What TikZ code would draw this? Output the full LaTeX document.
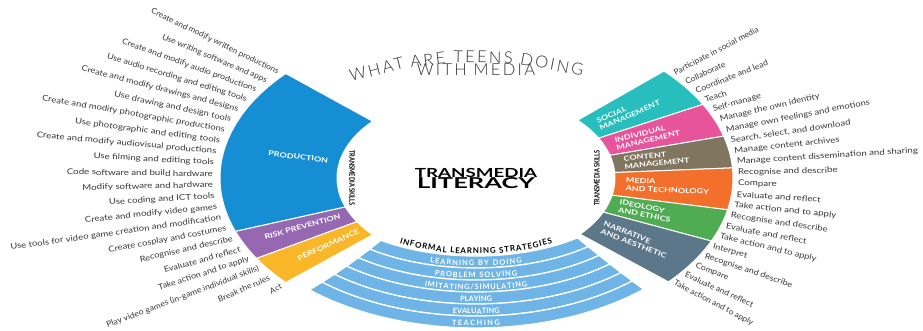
\documentclass[tikz,border=0pt]{standalone}
\usepackage{fontspec}
\setmainfont{Lato}
\newfontfamily\titlefont{Lato Light}[LetterSpace=14]
\usetikzlibrary{decorations.text}
\definecolor{cprod}{RGB}{22,142,212}
\definecolor{crisk}{RGB}{150,104,178}
\definecolor{cperf}{RGB}{248,182,40}
\definecolor{csoc}{RGB}{40,190,190}
\definecolor{cind}{RGB}{232,84,156}
\definecolor{ccont}{RGB}{128,118,96}
\definecolor{cmed}{RGB}{242,112,44}
\definecolor{cideo}{RGB}{80,172,82}
\definecolor{cnarr}{RGB}{92,118,138}
\definecolor{cband}{RGB}{110,180,230}
\definecolor{ctext}{RGB}{55,55,55}
\definecolor{ctitle}{RGB}{50,50,50}
\newcommand{\bandfmt}{\bfseries\fontsize{7.5}{8}\selectfont\color{white}}
\newcommand{\inffmt}{\bfseries\fontsize{8}{9}\selectfont\color{black}}
\tikzset{
  litem/.style={font=\fontsize{8}{9}\selectfont, text=ctext, inner sep=0pt},
  wlab/.style={font=\bfseries\fontsize{7}{8}\selectfont, text=white, inner sep=0pt, align=left, xscale=1.28},
  skills/.style={font=\bfseries\fontsize{7.5}{8}\selectfont, text=black, inner sep=0pt, xscale=0.75},
  wedgefill/.style={draw=white, line width=1pt},
  bandfill/.style={fill=cband, draw=white, line width=1.3pt},
  centre/.style={font=\bfseries, text=black, inner sep=0pt},
  titleword/.style={font=\titlefont\fontsize{16.5}{18}\selectfont, text=ctitle, inner sep=0pt, anchor=base}
}
\newcommand{\mywedge}[5]{\fill[#1, wedgefill] (#2:#4) arc[start angle=#2, end angle=#3, radius=#4] -- (#3:#5) arc[start angle=#3, end angle=#2, radius=#5] -- cycle;}
\begin{document}
\begin{tikzpicture}[x=1pt,y=1pt]
\useasboundingbox (-476,-153) rectangle (447,178);
\fill[white] (-476,-153) rectangle (447,178);
\begin{scope}[yscale=0.61]
  % left wedges
  \mywedge{cprod}{138}{200}{139}{256}
  \mywedge{crisk}{200}{211}{139}{256}
  \mywedge{cperf}{211}{222}{139}{256}
  % right wedges
  \mywedge{csoc}{43}{28}{139}{257}
  \mywedge{cind}{28}{15.5}{139}{257}
  \mywedge{ccont}{15.5}{3.7}{139}{257}
  \mywedge{cmed}{3.7}{-11.7}{139}{257}
  \mywedge{cideo}{-11.7}{-23.7}{139}{257}
  \mywedge{cnarr}{-23.7}{-41.5}{139}{257}
  % wedge labels
  \node[rotate=-6.76, wlab] (prodlab) at (169:181) {PRODUCTION};
  \node[rotate=15.67, wlab] (risklab) at (204.7:191) {RISK PREVENTION};
  \node[rotate=24.38, wlab] (perflab) at (216.6:184) {PERFORMANCE};
  \node[rotate=23.5, wlab, anchor=west] (soclab) at (35.5:150) {SOCIAL\\MANAGEMENT};
  \node[rotate=13.65, wlab, anchor=west] (indlab) at (21.7:150) {INDIVIDUAL\\MANAGEMENT};
  \node[rotate=5.89, wlab, anchor=west] (contlab) at (9.6:150) {CONTENT\\MANAGEMENT};
  \node[rotate=-2.44, wlab, anchor=west] (medlab) at (-4:150) {MEDIA\\AND TECHNOLOGY};
  \node[rotate=-11.0, wlab, anchor=west] (ideolab) at (-17.7:150) {IDEOLOGY\\AND ETHICS};
  \node[rotate=-21.3, wlab, anchor=west] (narrlab) at (-32.6:150) {NARRATIVE\\AND AESTHETIC};
  % left list
  \foreach \txt [count=\i from 0] in {Create and modify written productions, Use writing software and apps, Create and modify audio productions, Use audio recording and editing tools, Create and modify drawings and designs, Use drawing and design tools, Create and modify photographic productions, Use photographic and editing tools, Create and modify audiovisual productions, Use filming and editing tools, Code software and build hardware, Modify software and hardware, Use coding and ICT tools, Create and modify video games, Use tools for video game creation and modification, Create cosplay and costumes, Recognise and describe, Evaluate and reflect, Take action and to apply, Play video games (in-game individual skills), Break the rules, Act}{
    \pgfmathsetmacro\ang{138.7+3.98*\i}
    \pgfmathsetmacro\rot{atan(0.55*tan(\ang))}
    \pgfmathsetmacro\xs{1.214*sqrt(cos(\ang)*cos(\ang)+0.372*sin(\ang)*sin(\ang))}
    \node[rotate=\rot, xscale=\xs, litem, anchor=east] (L\i) at (\ang:263) {\txt};
  }
  % right list
  \foreach \txt [count=\i from 0] in {Participate in social media, Collaborate, Coordinate and lead, Teach, Self-manage, Manage the own identity, Manage own feelings and emotions, {Search, select, and download}, Manage content archives, Manage content dissemination and sharing, Recognise and describe, Compare, Evaluate and reflect, Take action and to apply, Recognise and describe, Evaluate and reflect, Take action and to apply, Interpret, Recognise and describe, Compare, Evaluate and reflect, Take action and to apply}{
    \pgfmathsetmacro\ang{40.8-3.886*\i}
    \pgfmathsetmacro\rot{atan(0.61*tan(\ang))}
    \pgfmathsetmacro\xs{1.214*sqrt(cos(\ang)*cos(\ang)+0.372*sin(\ang)*sin(\ang))}
    \node[rotate=\rot, xscale=\xs, litem, anchor=west] (R\i) at (\ang:262) {\txt};
  }
\end{scope}
% transmedia skills labels
\node[rotate=-90, skills] (skL) at (-124,0) {TRANSMEDIA SKILLS};
\node[rotate=90, skills] (skR) at (121,0) {TRANSMEDIA SKILLS};
% centre title
\node[centre, font=\bfseries\fontsize{12.5}{13}\selectfont, xscale=1.5] (tm) at (0,5.5) {TRANSMEDIA};
\node[centre, font=\bfseries\fontsize{15}{16}\selectfont, xscale=1.7] (lit) at (0,-5.5) {LITERACY};
% bands
\foreach \k in {0,...,5}{
  \pgfmathsetmacro\bA{78+12*\k}
  \pgfmathsetmacro\aA{158+15.333*\k}
  \pgfmathsetmacro\bB{78+12*(\k+1)}
  \pgfmathsetmacro\aB{158+15.333*(\k+1)}
  \pgfmathsetmacro\lA{233-0.8*\k}
  \pgfmathsetmacro\rA{310+0.35*\k}
  \pgfmathsetmacro\lB{233-0.8*(\k+1)}
  \pgfmathsetmacro\rB{310+0.35*(\k+1)}
  \fill[bandfill] ({\aA*cos(\lA)},{\bA*sin(\lA)}) arc[start angle=\lA, end angle=\rA, x radius=\aA, y radius=\bA] -- ({\aB*cos(\rB)},{\bB*sin(\rB)}) arc[start angle=\rB, end angle=\lB, x radius=\aB, y radius=\bB] -- cycle;
}
% band labels
\path[decorate, decoration={text along path, text={|\bandfmt|LEARNING BY DOING}, text align=fit to path}] ({170.8*cos(254.38)},{88*sin(254.38)}) arc[start angle=254.38, end angle=285.62, x radius=170.8, y radius=88];
\path[decorate, decoration={text along path, text={|\bandfmt|PROBLEM SOLVING}, text align=fit to path}] ({186.1*cos(257.12)},{100*sin(257.12)}) arc[start angle=257.12, end angle=282.88, x radius=186.1, y radius=100];
\path[decorate, decoration={text along path, text={|\bandfmt|IMITATING/SIMULATING}, text align=fit to path}] ({201.4*cos(255.19)},{112*sin(255.19)}) arc[start angle=255.19, end angle=284.81, x radius=201.4, y radius=112];
\path[decorate, decoration={text along path, text={|\bandfmt|PLAYING}, text align=fit to path}] ({216.8*cos(265.77)},{124*sin(265.77)}) arc[start angle=265.77, end angle=274.23, x radius=216.8, y radius=124];
\path[decorate, decoration={text along path, text={|\bandfmt|EVALUATING}, text align=fit to path}] ({232.1*cos(264.19)},{136*sin(264.19)}) arc[start angle=264.19, end angle=275.81, x radius=232.1, y radius=136];
\path[decorate, decoration={text along path, text={|\bandfmt|TEACHING}, text align=fit to path}] ({247.4*cos(264.43)},{148*sin(264.43)}) arc[start angle=264.43, end angle=275.57, x radius=247.4, y radius=148];
\path[decorate, decoration={text along path, text={|\inffmt|INFORMAL LEARNING STRATEGIES}, text align=fit to path}] ({148*cos(238.9)},{76*sin(238.9)}) arc[start angle=238.9, end angle=301.1, x radius=148, y radius=76];
% title words on an arc
\node[titleword, rotate=14.2] (w1) at (-98,102.8) {WHAT};
\node[titleword, rotate=6.9] (w2) at (-47.5,112.1) {ARE};
\node[titleword, rotate=-1.0] (w3) at (7,115) {TEENS};
\node[titleword, rotate=-10.9] (w4) at (75,107.8) {DOING};
\node[titleword] (w5) at (0,102) {WITH MEDIA};
\end{tikzpicture}
\end{document}
